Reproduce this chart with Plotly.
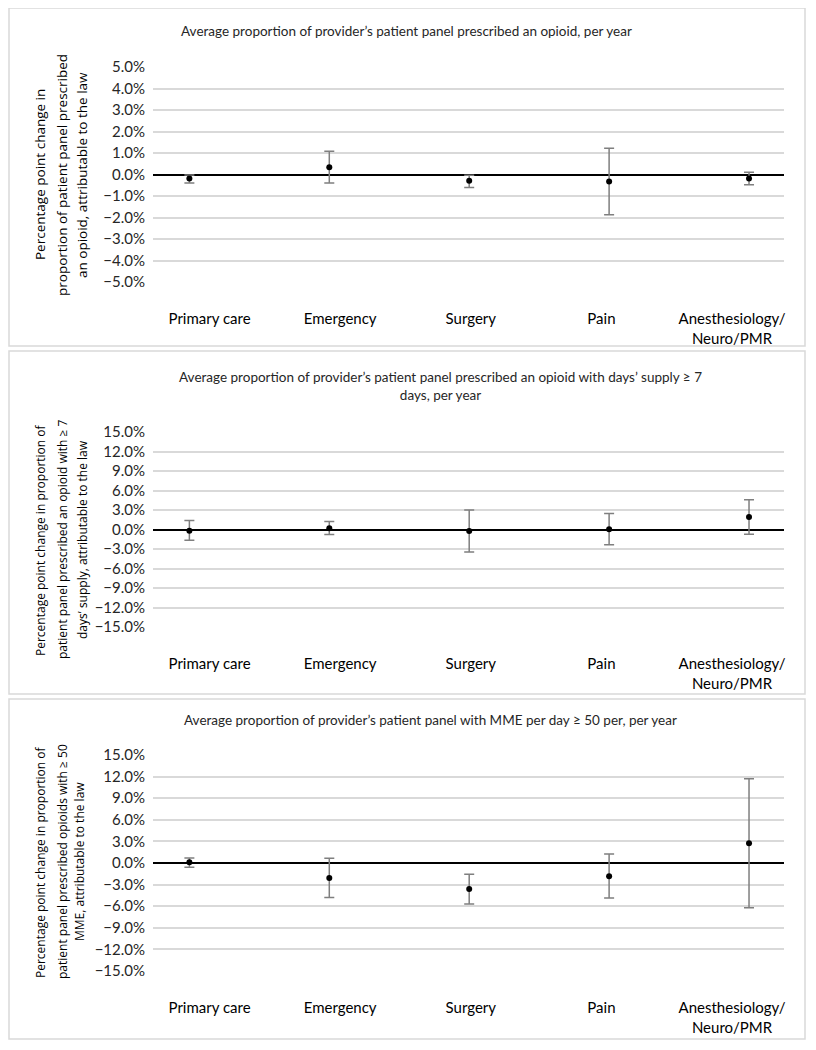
import plotly.graph_objects as go

# page body has an 8px default margin; keep the figure inside the 816x1050 window
OFF = 8
W, H = 816 - 2 * OFF, 1050 - 2 * OFF

categories = ["Primary care", "Emergency", "Surgery", "Pain", "Anesthesiology/<br>Neuro/PMR"]

# Panel 1: any opioid
p1_est = [-0.19, 0.34, -0.29, -0.33, -0.19]
p1_low = [-0.40, -0.40, -0.60, -1.87, -0.48]
p1_high = [-0.02, 1.08, -0.03, 1.22, 0.11]

# Panel 2: days' supply >= 7
p2_est = [-0.20, 0.20, -0.25, 0.05, 1.91]
p2_low = [-1.64, -0.77, -3.45, -2.36, -0.72]
p2_high = [1.39, 1.24, 3.00, 2.47, 4.59]

# Panel 3: MME per day >= 50
p3_est = [0.10, -2.10, -3.60, -1.85, 2.75]
p3_low = [-0.60, -4.80, -5.70, -4.85, -6.20]
p3_high = [0.70, 0.65, -1.55, 1.25, 11.70]

titles = [
    "Average proportion of provider\u2019s patient panel prescribed an opioid, per year",
    "Average proportion of provider\u2019s patient panel prescribed an opioid with days\u2019 supply \u2265 7<br>days, per year",
    "Average proportion of provider\u2019s patient panel with MME per day \u2265 50 per, per year",
]
ytitle_lines = [
    ["Percentage point change in", "proportion of patient panel prescribed",
     "an opioid, attributable to the law"],
    ["Percentage point change in proportion of", "patient panel prescribed an opioid with \u2265 7",
     "days\u2019 supply, attributable to the law"],
    ["Percentage point change in proportion of", "patient panel prescribed opioids with \u2265 50",
     "MME, attributable to the law"],
]
yranges = [(-5, 5, 1), (-15, 15, 3), (-15, 15, 3)]
data = [(p1_est, p1_low, p1_high), (p2_est, p2_low, p2_high), (p3_est, p3_low, p3_high)]

# layout in window pixels
plot_x = (153, 784)
plot_y = [(67, 282), (432, 627), (755, 971)]
panels = [(8, 346), (351, 694), (699, 1039)]
title_y = [31, 386, 720]
title_x = [406, 440, 430]
ytitle_cy = [175, 540, 862]
ytitle_lx = [(40, 62, 82), (40, 62, 82), (40, 62, 79)]
ytitle_size = [13.5, 12, 12]

def px(x):
    return (x - OFF) / W

def py(y):
    return 1 - (y - OFF) / H

fig = go.Figure()
FONT = "Lato"
idx = list(range(len(categories)))

for i, (est, low, high) in enumerate(data):
    n = i + 1
    xa = "x" if n == 1 else f"x{n}"
    ya = "y" if n == 1 else f"y{n}"
    ln = n + 3
    xl = f"x{ln}"
    fig.add_trace(go.Scatter(
        x=idx, y=est, mode="markers",
        marker=dict(color="black", size=6),
        error_y=dict(type="data", symmetric=False,
                     array=[h - e for h, e in zip(high, est)],
                     arrayminus=[e - l for e, l in zip(est, low)],
                     color="#7f7f7f", thickness=1.5, width=5),
        xaxis=xa, yaxis=ya, showlegend=False, hoverinfo="skip"))
    # label carrier for the category text axis
    fig.add_trace(go.Scatter(x=idx, y=[None] * len(idx), mode="markers",
                             xaxis=xl, yaxis=ya, showlegend=False, hoverinfo="skip"))
    lo, hi, step = yranges[i]
    fig.update_layout(**{
        ("xaxis" if n == 1 else f"xaxis{n}"): dict(
            domain=[px(plot_x[0]), px(plot_x[1])], range=[-0.26, 4.25],
            showticklabels=False, automargin=False,
            showgrid=False, zeroline=False, showline=False, ticks="", anchor=ya),
        f"xaxis{ln}": dict(
            domain=[px(plot_x[0]), px(plot_x[1])], range=[-0.433, 4.398],
            overlaying=xa, anchor=ya, automargin=False,
            tickmode="array", tickvals=idx, ticktext=categories,
            showgrid=False, zeroline=False, showline=False, ticks="",
            ticklabelstandoff=26,
            tickfont=dict(family=FONT, size=15, color="black")),
        ("yaxis" if n == 1 else f"yaxis{n}"): dict(
            domain=[py(plot_y[i][1]), py(plot_y[i][0])], range=[lo, hi],
            dtick=step, tick0=0, tickformat=".1f", ticksuffix="%",
            showgrid=True, gridcolor="#d9d9d9", gridwidth=1.5,
            zeroline=True, zerolinecolor="black", zerolinewidth=1.5,
            showline=False, ticks="", ticklabelstandoff=7, anchor=xa, automargin=False,
            tickfont=dict(family=FONT, size=15, color="#262626")),
    })

shapes = []
for (t, b) in panels:
    shapes.append(dict(type="rect", xref="paper", yref="paper",
                       x0=px(9), x1=px(805), y0=py(b), y1=py(t),
                       line=dict(color="#d9d9d9", width=1.5), fillcolor="rgba(0,0,0,0)", layer="below"))

annotations = []
for i in range(3):
    annotations.append(dict(text=titles[i], x=px(title_x[i]), y=py(title_y[i]),
                            xref="paper", yref="paper", showarrow=False,
                            xanchor="center", yanchor="middle",
                            font=dict(family=FONT, size=13.5, color="#262626")))
    for line, lx in zip(ytitle_lines[i], ytitle_lx[i]):
        annotations.append(dict(text=line, x=px(lx), y=py(ytitle_cy[i]),
                                xref="paper", yref="paper", showarrow=False, textangle=-90,
                                xanchor="center", yanchor="middle",
                                font=dict(family="Open Sans", size=ytitle_size[i], color="black")))

fig.update_layout(width=W, height=H, margin=dict(l=0, r=0, t=0, b=0, autoexpand=False),
                  paper_bgcolor="white", plot_bgcolor="white",
                  shapes=shapes, annotations=annotations)

fig.write_html("out.html")
